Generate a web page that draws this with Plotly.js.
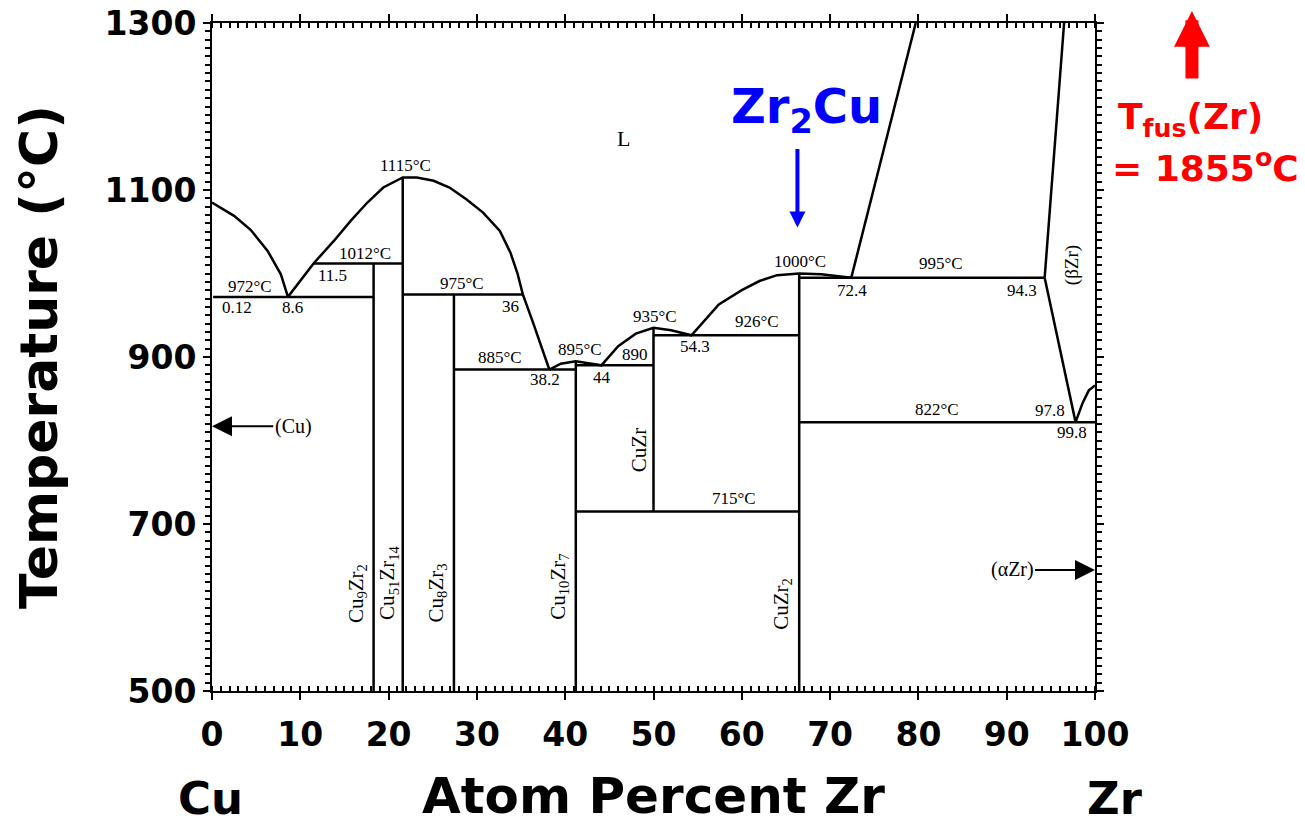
<!DOCTYPE html>
<html>
<head>
<meta charset="utf-8">
<script src="https://cdn.plot.ly/plotly-3.0.1.min.js"></script>
<style>html,body{margin:0;padding:0;background:#fff}#chart{width:1305px;height:825px}</style>
</head>
<body>
<div id="chart"></div>
<script>
// ---- Data (x = atom percent Zr, y = temperature in °C) ----
const liqCuSideX = [0, 2.5, 4.4, 6.3, 7.8, 8.6];
const liqCuSideT = [1085, 1069, 1052, 1027, 999, 972];

const liqDomeX = [8.6, 11.5, 13.8, 15.7, 17.6, 19.4, 21.6, 23.2, 25.1, 26.9, 28.8, 30.7, 32.6, 33.8, 34.6, 35.2, 36.3, 37.2, 38.2];
const liqDomeT = [972, 1012, 1039, 1063, 1085, 1103, 1115, 1115, 1111, 1103, 1089, 1073, 1051, 1025, 1000, 975, 943, 915, 885];

const liqMidX = [38.2, 39.5, 41.2, 42.6, 44.1, 46, 48, 50, 52, 54.3, 57.4, 60, 62, 64, 66.5, 69, 72.4];
const liqMidT = [885, 892, 895, 893, 890, 913, 928, 935, 932, 926, 963, 980, 991, 998, 1000, 999, 995];

const liqZrX = [72.4, 79.7];
const liqZrT = [995, 1300];
const betaSolidusX = [94.3, 96.5];
const betaSolidusT = [995, 1300];
const betaSolvusX = [94.3, 97.8];
const betaSolvusT = [995, 822];
const alphaBetaX = [97.8, 98.6, 99.3, 100];
const alphaBetaT = [822, 845, 860, 866];

// invariant isotherms
const isoT  = [972, 1012, 975, 885, 890, 926, 715, 995, 822];
const isoX0 = [0.12, 11.5, 21.6, 27.4, 41.2, 50, 41.2, 66.5, 66.5];
const isoX1 = [18.3, 21.6, 35.2, 41.2, 50, 66.5, 66.5, 94.3, 100];

// intermetallic compounds (vertical lines)
const compX      = [18.3, 21.6, 27.4, 41.2, 50, 66.5];
const compTop    = [1012, 1115, 975, 895, 935, 1000];
const compBottom = [500, 500, 500, 500, 715, 500];
const compNames  = ['Cu<sub>9</sub>Zr<sub>2</sub>', 'Cu<sub>51</sub>Zr<sub>14</sub>', 'Cu<sub>8</sub>Zr<sub>3</sub>',
                    'Cu<sub>10</sub>Zr<sub>7</sub>', 'CuZr', 'CuZr<sub>2</sub>'];
const compLabelX = [16.4, 20.0, 25.5, 39.2, 48.3, 64.6];
const compLabelT = [617, 629, 617, 625, 789, 605];

// point labels
const labelText = ['972°C', '0.12', '8.6', '11.5', '1012°C', '1115°C', '975°C', '36', '885°C', '38.2',
                   '895°C', '44', '890', '935°C', '54.3', '926°C', '715°C', '1000°C', '72.4', '995°C',
                   '94.3', '822°C', '97.8', '99.8'];
const labelX = [4.3, 2.8, 9.1, 13.6, 17.35, 21.9, 28.3, 33.8, 32.6, 37.7,
                41.7, 44.2, 47.9, 50.2, 54.7, 61.7, 59.1, 66.6, 72.5, 82.6,
                91.7, 82.1, 94.9, 97.4];
const labelT = [984, 959, 959, 998, 1024, 1129, 988, 960, 899, 873,
                909, 875, 903, 948, 913, 942, 731, 1014, 980, 1012,
                980, 837, 836, 809];

const xTickVals = [0, 10, 20, 30, 40, 50, 60, 70, 80, 90, 100];
const yTickVals = [500, 700, 900, 1100, 1300];
const xMinorStep = 1;   // at.% between small ticks
const yMinorStep = 10;  // °C between small ticks

// ---- Build traces ----
const lineStyle = {color: '#000', width: 2.5};
function curve(xs, ys) {
  return {x: xs, y: ys, mode: 'lines', line: lineStyle, hoverinfo: 'skip', showlegend: false, type: 'scatter'};
}
const isoXs = [], isoYs = [];
isoT.forEach((t, i) => { isoXs.push(isoX0[i], isoX1[i], null); isoYs.push(t, t, null); });
const compXs = [], compYs = [];
compX.forEach((x, i) => { compXs.push(x, x, null); compYs.push(compTop[i], compBottom[i], null); });

const traces = [
  curve(liqCuSideX, liqCuSideT),
  curve(liqDomeX, liqDomeT),
  curve(liqMidX, liqMidT),
  curve(liqZrX, liqZrT),
  curve(betaSolidusX, betaSolidusT),
  curve(betaSolvusX, betaSolvusT),
  curve(alphaBetaX, alphaBetaT),
  curve(isoXs, isoYs),
  curve(compXs, compYs)
];

// ---- Annotations ----
const serif = 'Liberation Serif, Times New Roman, serif';
const sans = 'DejaVu Sans, Verdana, sans-serif';
const C = {xanchor: 'center', yanchor: 'middle'};
const ann = [];
labelText.forEach((t, i) => ann.push(Object.assign({x: labelX[i], y: labelT[i], text: t, showarrow: false,
  font: {family: serif, size: 17, color: '#000'}}, C)));
compNames.forEach((t, i) => ann.push(Object.assign({x: compLabelX[i], y: compLabelT[i], text: t, showarrow: false, textangle: -90,
  font: {family: serif, size: 21, color: '#000'}}, C)));
ann.push(Object.assign({x: 97.4, y: 1010, text: '(βZr)', showarrow: false, textangle: -90, font: {family: serif, size: 19, color: '#000'}}, C));
ann.push(Object.assign({x: 46.6, y: 1162, text: 'L', showarrow: false, font: {family: serif, size: 22, color: '#000'}}, C));
// phase arrows
ann.push({x: 0, y: 817, ax: 9.2, ay: 817, axref: 'x', ayref: 'y', text: '(Cu)', showarrow: true,
  arrowhead: 2, arrowsize: 2, arrowwidth: 2, arrowcolor: '#000', standoff: 0,
  font: {family: serif, size: 20, color: '#000'}});
ann.push({x: 100, y: 645, ax: 90.6, ay: 645, axref: 'x', ayref: 'y', text: '(αZr)', showarrow: true,
  arrowhead: 2, arrowsize: 2, arrowwidth: 2, arrowcolor: '#000', standoff: 0,
  font: {family: serif, size: 20, color: '#000'}});
// Zr2Cu highlight
ann.push(Object.assign({x: 67.3, y: 1196, text: 'Zr<sub>2</sub>Cu', showarrow: false,
  font: {family: sans, size: 48, color: '#0000ff', weight: 'bold'}}, C));
ann.push({x: 66.3, y: 1055, ax: 0, ay: -80, text: '', showarrow: true,
  arrowhead: 2, arrowsize: 0.8, arrowwidth: 4, arrowcolor: '#0000ff'});
// melting point of Zr (off scale)
ann.push({xref: 'paper', yref: 'paper', x: 1.1098, y: 1.018, ax: 0, ay: 69, text: '', showarrow: true,
  arrowhead: 2, arrowsize: 0.55, arrowwidth: 13, arrowcolor: '#ff0000'});
ann.push(Object.assign({xref: 'paper', yref: 'paper', x: 1.1076, y: 0.855, text: 'T<sub>fus</sub>(Zr)', showarrow: false,
  font: {family: sans, size: 36, color: '#ff0000', weight: 'bold'}}, C));
ann.push(Object.assign({xref: 'paper', yref: 'paper', x: 1.1246, y: 0.786, text: '= 1855<sup>o</sup>C', showarrow: false,
  font: {family: sans, size: 36, color: '#ff0000', weight: 'bold'}}, C));
// element ends of the composition axis
ann.push(Object.assign({xref: 'paper', yref: 'paper', x: -0.002, y: -0.161, text: 'Cu', showarrow: false,
  font: {family: sans, size: 45, color: '#000', weight: 'bold'}}, C));
ann.push(Object.assign({xref: 'paper', yref: 'paper', x: 1.0226, y: -0.161, text: 'Zr', showarrow: false,
  font: {family: sans, size: 45, color: '#000', weight: 'bold'}}, C));

const axisCommon = {
  showline: true, linecolor: '#000', linewidth: 2, mirror: 'allticks',
  tickmode: 'linear', ticks: 'outside', ticklen: 7, tickwidth: 2, tickcolor: '#000',
  showgrid: false, zeroline: false, fixedrange: true,
  tickfont: {family: sans, size: 33, color: '#000', weight: 'bold'}
};
const xRange = [xTickVals[0], xTickVals[xTickVals.length - 1]];
const yRange = [yTickVals[0], yTickVals[yTickVals.length - 1]];

const layout = {
  width: 1305, height: 825,
  margin: {l: 212, r: 210, t: 23, b: 134, autoexpand: false},
  paper_bgcolor: '#fff', plot_bgcolor: '#fff',
  showlegend: false,
  xaxis: Object.assign({}, axisCommon, {
    range: xRange, tick0: xTickVals[0], dtick: xTickVals[1] - xTickVals[0], ticklabelstandoff: 6,
    minor: {tickmode: 'linear', tick0: xTickVals[0], dtick: xMinorStep, ticks: 'inside', ticklen: 5, tickwidth: 2, tickcolor: '#000'},
    title: {text: 'Atom Percent Zr', standoff: 26, font: {family: sans, size: 50, color: '#000', weight: 'bold'}}
  }),
  yaxis: Object.assign({}, axisCommon, {
    range: yRange, tick0: yTickVals[0], dtick: yTickVals[1] - yTickVals[0],
    minor: {tickmode: 'linear', tick0: yTickVals[0], dtick: yMinorStep, ticks: 'outside', ticklen: 5, tickwidth: 2, tickcolor: '#000'},
    title: {text: 'Temperature (°C)', standoff: 30, font: {family: sans, size: 52, color: '#000', weight: 'bold'}}
  }),
  annotations: ann
};

Plotly.newPlot('chart', traces, layout, {displayModeBar: false, staticPlot: true});
</script>
</body>
</html>
